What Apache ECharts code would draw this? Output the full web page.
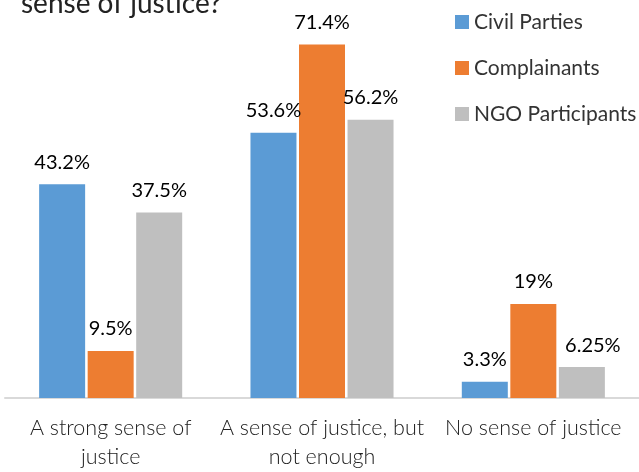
<!DOCTYPE html>
<html lang="en">
<head>
  <meta charset="UTF-8">
  <title>Sense of justice</title>
  <style>
    body { margin: 0; padding: 0; background: #fff; }
    #chart { width: 639px; height: 472px; }
  </style>
  <script src="https://cdn.jsdelivr.net/npm/echarts@6/dist/echarts.min.js"></script>
</head>
<body>
  <div id="chart"></div>
  <script>
    // chart data
    const categories = ['A strong sense of\njustice', 'A sense of justice, but\nnot enough', 'No sense of justice'];
    const civilParties = [43.2, 53.6, 3.3];
    const complainants = [9.5, 71.4, 19];
    const ngoParticipants = [37.5, 56.2, 6.25];
    const seriesNames = ['Civil Parties', 'Complainants', 'NGO Participants'];
    const colors = ['#5B9BD5', '#ED7D31', '#BFBFBF'];

    const chart = echarts.init(document.getElementById('chart'));

    function makeSeries(name, data, color, labelOffsets) {
      return {
        name: name,
        type: 'bar',
        // some labels were nudged sideways in the original
        data: data.map((v, i) => (labelOffsets && labelOffsets[i])
          ? { value: v, label: { offset: labelOffsets[i] } }
          : v),
        barWidth: 46,
        barGap: '5.5%',
        itemStyle: { color: color },
        label: {
          show: true,
          position: 'top',
          distance: 12,
          color: '#000',
          fontFamily: 'Lato',
          fontSize: 20,
          formatter: p => p.value + '%'
        }
      };
    }

    chart.setOption({
      animation: false,
      title: {
        text: 'sense of justice?',
        left: 16,
        top: -15,
        textStyle: { fontFamily: 'Lato', fontWeight: 'normal', fontSize: 28, color: '#222' }
      },
      legend: {
        orient: 'vertical',
        left: 455,
        top: 11,
        padding: 0,
        itemWidth: 14,
        itemHeight: 14,
        itemGap: 24,
        icon: 'rect',
        textStyle: { fontFamily: 'Lato', fontSize: 21, color: '#333', lineHeight: 22 },
        data: seriesNames
      },
      grid: { left: 5, right: -6, top: 2, bottom: 72 },
      xAxis: {
        type: 'category',
        data: categories,
        axisTick: { show: false },
        axisLine: { lineStyle: { color: '#D9D9D9', width: 2 } },
        axisLabel: {
          interval: 0,
          margin: 16,
          color: '#222',
          fontFamily: 'Lato',
          fontWeight: 300,
          fontSize: 21.5,
          lineHeight: 29
        }
      },
      yAxis: {
        type: 'value',
        min: 0,
        max: 80,
        show: false,
        splitLine: { show: false }
      },
      series: [
        makeSeries(seriesNames[0], civilParties, colors[0]),
        makeSeries(seriesNames[1], complainants, colors[1]),
        makeSeries(seriesNames[2], ngoParticipants, colors[2], [null, null, [11, 0]])
      ]
    });
  </script>
</body>
</html>
